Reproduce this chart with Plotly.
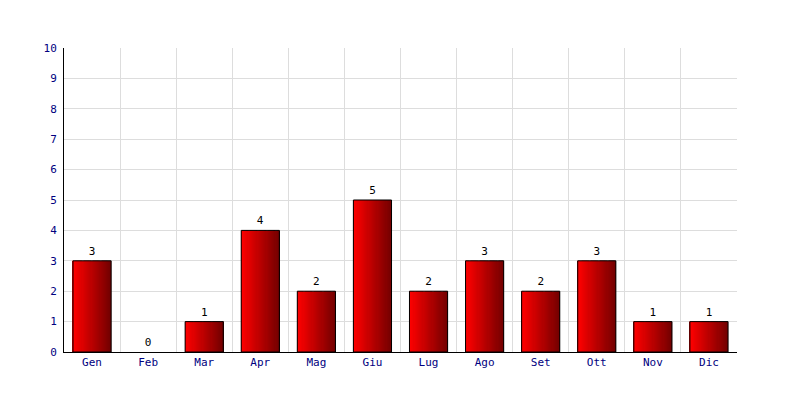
import plotly.graph_objects as go

months = ["Gen", "Feb", "Mar", "Apr", "Mag", "Giu", "Lug", "Ago", "Set", "Ott", "Nov", "Dic"]
values = [3, 0, 1, 4, 2, 5, 2, 3, 2, 3, 1, 1]

BAR_W = 0.68
N = 34
c0 = (255, 0, 0)
c1 = (118, 0, 0)

fig = go.Figure()
for i in range(N):
    t = i / (N - 1)
    col = "rgb(%d,%d,%d)" % tuple(round(a + (b - a) * t) for a, b in zip(c0, c1))
    fig.add_trace(go.Bar(
        x=months, y=values, width=BAR_W / N * 1.15, offset=-BAR_W / 2 + i * BAR_W / N,
        marker=dict(color=col, line=dict(width=0)), hoverinfo="skip", showlegend=False,
    ))
# outline + value labels
fig.add_trace(go.Bar(
    x=months, y=values, width=BAR_W, offset=-BAR_W / 2,
    marker=dict(color="rgba(0,0,0,0)",
                line=dict(color="black", width=[1 if v > 0 else 0 for v in values])),
    text=[str(v) for v in values], textposition="outside",
    textfont=dict(color="black", size=11, family="DejaVu Sans Mono"),
    cliponaxis=False, showlegend=False,
))

fig.update_layout(
    width=800, height=400, barmode="overlay",
    margin=dict(l=56, r=71, t=40, b=56),
    paper_bgcolor="white", plot_bgcolor="white",
    font=dict(family="DejaVu Sans Mono", size=11, color="#000080"),
    xaxis=dict(type="category", tickson="boundaries", showgrid=True, gridcolor="#dddddd",
               gridwidth=1, showline=True, linecolor="black", linewidth=1, ticks="",
               tickfont=dict(color="#000080", size=11)),
    yaxis=dict(range=[0, 10], dtick=1, showgrid=True, gridcolor="#dddddd", gridwidth=1,
               showline=True, linecolor="black", linewidth=1, zeroline=False, ticks="",
               ticklabelstandoff=4,
               tickfont=dict(color="#000080", size=11)),
    uniformtext=dict(minsize=11, mode="show"),
)
fig.write_html("out.html")
